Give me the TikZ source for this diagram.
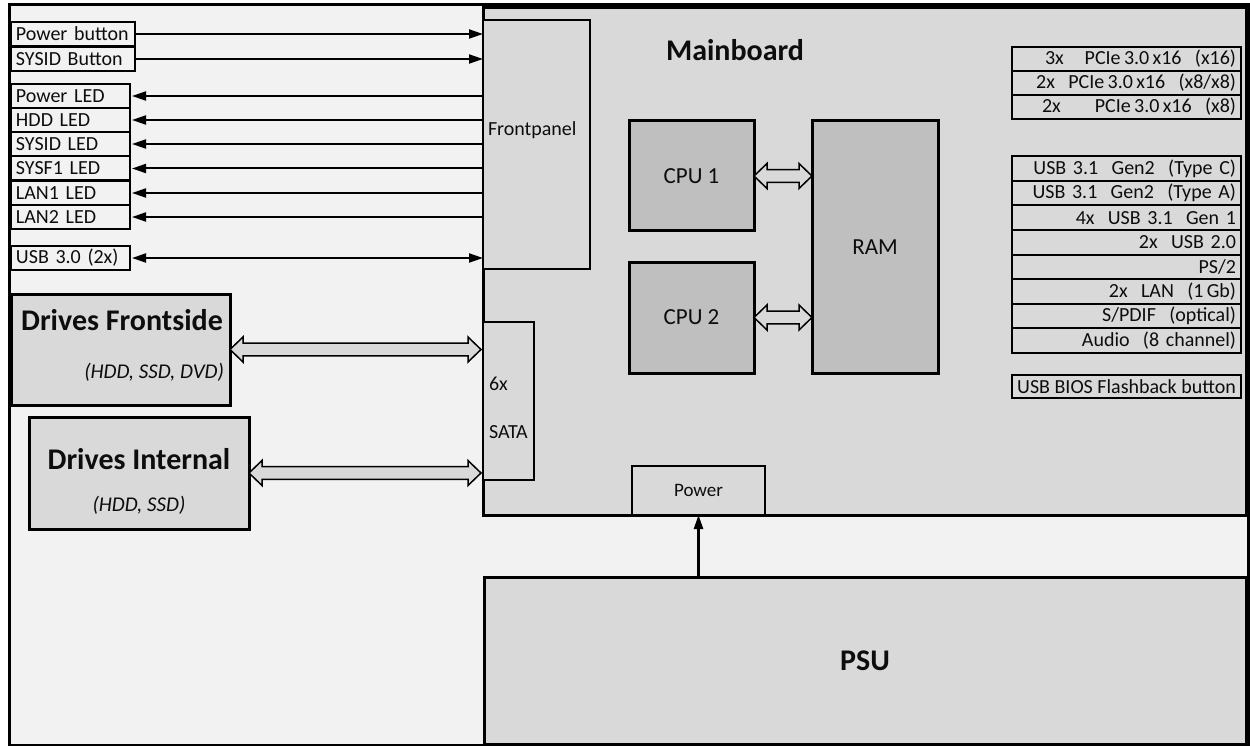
\documentclass[tikz,border=0pt]{standalone}
\usepackage{fontspec}
\setmainfont{Carlito}
\usetikzlibrary{arrows.meta,calc}
\definecolor{bgc}{HTML}{F2F2F2}
\definecolor{mbc}{HTML}{D9D9D9}
\definecolor{cpuc}{HTML}{BFBFBF}
\definecolor{txt}{HTML}{0D0D0D}
\newcommand\fatarrow[2]{%
  \filldraw[fatarr] let \p1=(#1), \p2=(#2) in
   (\x1,\y1) -- (\x1+13pt,\y1+12.5pt) -- (\x1+13pt,\y1+6.3pt) -- (\x2-13pt,\y1+6.3pt)
   -- (\x2-13pt,\y1+12.5pt) -- (\x2,\y1) -- (\x2-13pt,\y1-12.5pt) -- (\x2-13pt,\y1-6.3pt)
   -- (\x1+13pt,\y1-6.3pt) -- (\x1+13pt,\y1-12.5pt) -- cycle;}
\begin{document}
\begin{tikzpicture}[x=1pt,y=-1pt,
  every node/.style={inner sep=0pt, outer sep=0pt, text=txt},
  nfont/.style={font=\fontsize{20}{22}\selectfont},
  bfont/.style={font=\fontsize{30}{34}\selectfont\bfseries},
  lbox/.style={draw, line width=2pt, fill=bgc, minimum height=24pt, inner xsep=5pt, align=left, nfont},
  rbox/.style={draw, line width=2pt, fill=mbc, minimum height=24.6pt, text width=219pt, inner xsep=5pt, align=right, nfont},
  thinbox/.style={draw, line width=1.6pt, fill=mbc},
  chip/.style={draw, line width=3pt, fill=cpuc, nfont, font=\fontsize{23}{26}\selectfont},
  drvbox/.style={draw, line width=3pt, fill=mbc},
  sig/.style={line width=2pt, -{Triangle[length=14pt,width=9pt]}},
  sigb/.style={line width=2pt, {Triangle[length=14pt,width=9pt]}-{Triangle[length=14pt,width=9pt]}},
  fatarr/.style={fill=mbc, draw=black, line width=1.5pt, line join=miter}
]
\useasboundingbox (0,0) rectangle (1250,746);
\fill[white] (0,0) rectangle (1250,746);
% outer frame
\draw[fill=bgc, line width=3pt] (9,5) rectangle (1248,745);

% mainboard
\node[draw, line width=3pt, fill=mbc, minimum width=763pt, minimum height=507pt] (mb) at (864.5,261.5) {};
\node[bfont] (mbt) at (735,50) {Mainboard};

% frontpanel
\node[thinbox, minimum width=107pt, minimum height=249pt] (fp) at (536.5,144.5) {};
\node[nfont, anchor=west] (fpt) at (488,130) {Frontpanel};

% SATA
\node[thinbox, minimum width=51pt, minimum height=158pt] (sata) at (508.5,401) {};
\node[nfont, anchor=west] (sx) at (489,384) {6x};
\node[nfont, anchor=west] (st) at (489,432) {SATA};

% CPUs and RAM
\node[chip, minimum width=125pt, minimum height=110pt] (cpu1) at (691.5,176) {CPU 1};
\node[chip, minimum width=125pt, minimum height=111pt] (cpu2) at (691.5,317.5) {CPU 2};
\node[chip, minimum width=126pt, minimum height=252pt] (ram) at (875,247) {RAM};
\fatarrow{cpu1.east}{ram.west |- cpu1.east}
\fatarrow{cpu2.east}{ram.west |- cpu2.east}

% power connector
\node[thinbox, minimum width=133pt, minimum height=49pt, font=\fontsize{19}{22}\selectfont] (pw) at (698.5,490.5) {Power};

% PSU
\node[draw, line width=3pt, fill=mbc, minimum width=762pt, minimum height=167pt, bfont] (psu) at (865,660.5) {PSU};
\draw[line width=2.4pt, -{Triangle[length=14pt,width=9pt]}] (psu.north -| pw.south) -- (pw.south);

% right list
\node[rbox] (r1) at (1126.5,59) {\hspace*{28pt}3x\hfill PCIe\,3.0\,x16\ \ (x16)};
\node[rbox] (r2) at (1126.5,83) {2x\ \ PCIe\,3.0\,x16\ \ (x8/x8)};
\node[rbox] (r3) at (1126.5,107) {\hspace*{25pt}2x\hfill PCIe\,3.0\,x16\ \ (x8)};
\node[rbox] (u1) at (1126.5,168.3) {USB 3.1\ \ Gen2\ \ (Type C)};
\node[rbox] (u2) at (1126.5,192.9) {USB 3.1\ \ Gen2\ \ (Type A)};
\node[rbox] (u3) at (1126.5,217.6) {4x\ \ USB 3.1\ \ Gen 1};
\node[rbox] (u4) at (1126.5,242.2) {2x\ \ USB 2.0};
\node[rbox] (u5) at (1126.5,266.8) {PS/2};
\node[rbox] (u6) at (1126.5,291.4) {2x\ \ LAN\ \ (1\,Gb)};
\node[rbox] (u7) at (1126.5,316.1) {S/PDIF\ \ (optical)};
\node[rbox] (u8) at (1126.5,340.7) {Audio\ \ (8 channel)};
\node[draw, line width=2pt, fill=mbc, nfont, minimum width=229pt, minimum height=23pt] (bios) at (1126.5,386.5) {USB BIOS Flashback button};

% left items
\node[lbox, text width=114pt] (pb) at (73,34) {Power button};
\node[lbox, text width=114pt] (sb) at (73,59) {SYSID Button};
\node[lbox, text width=109pt] (l1) at (70.5,96) {Power LED};
\node[lbox, text width=109pt] (l2) at (70.5,120) {HDD LED};
\node[lbox, text width=109pt] (l3) at (70.5,144) {SYSID LED};
\node[lbox, text width=109pt] (l4) at (70.5,168.5) {SYSF1 LED};
\node[lbox, text width=109pt] (l5) at (70.5,193) {LAN1 LED};
\node[lbox, text width=109pt] (l6) at (70.5,217) {LAN2 LED};
\node[lbox, text width=109pt] (usb) at (70.5,258) {USB 3.0 (2x)};

\draw[sig] (pb.east) -- (fp.west |- pb.east);
\draw[sig] (sb.east) -- (fp.west |- sb.east);
\foreach \n in {l1,l2,l3,l4,l5,l6}{
  \draw[sig, shorten >=2pt] (fp.west |- \n.east) -- (\n.east);
}
\draw[sigb, shorten <=2pt] (usb.east) -- (fp.west |- usb.east);

% drives
\node[drvbox, minimum width=219pt, minimum height=111pt] (dfs) at (120.5,349.5) {};
\node[bfont] (dfst) at (122,320) {Drives Frontside};
\node[font=\fontsize{21}{24}\selectfont\itshape, anchor=east] (dfss) at (224,372) {(HDD, SSD, DVD)};
\node[drvbox, minimum width=220pt, minimum height=112pt] (di) at (139,473) {};
\node[bfont] (dit) at (139,459) {Drives Internal};
\node[font=\fontsize{21}{24}\selectfont\itshape] (dis) at (139,505) {(HDD, SSD)};

\fatarrow{dfs.east}{$(sata.west |- dfs.east)+(-2pt,0)$}
\fatarrow{di.east}{$(sata.west |- di.east)+(-2pt,0)$}
\end{tikzpicture}
\end{document}
